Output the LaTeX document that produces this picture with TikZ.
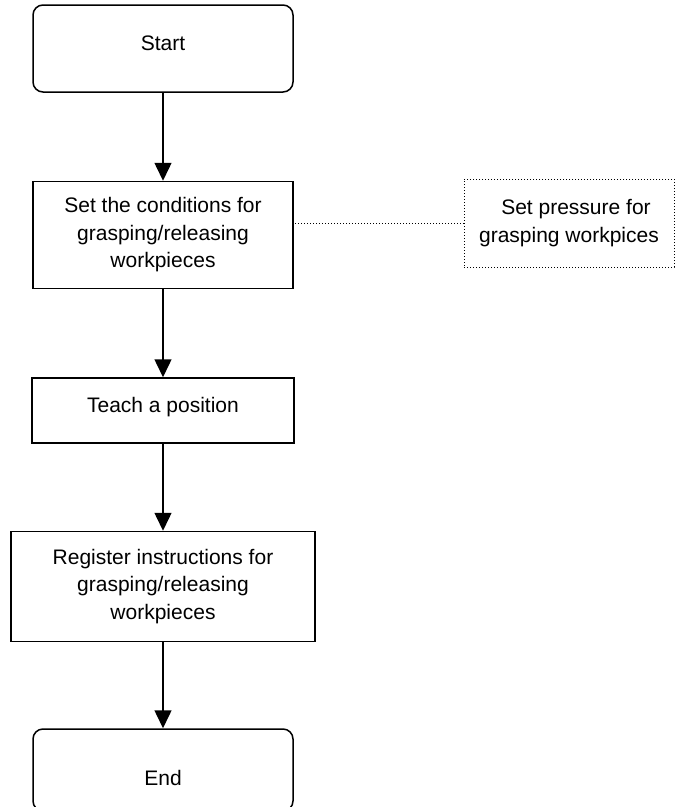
\documentclass[tikz,border=0pt]{standalone}
\usepackage{fontspec}
\setmainfont{Liberation Sans}
\usepackage{tikz}
\usetikzlibrary{arrows.meta, positioning}
\tikzset{
  termbox/.style={rectangle, rounded corners=10pt, draw=black, line width=1.5pt, minimum width=260pt, minimum height=87pt, inner sep=0pt, font=\fontsize{21}{27.5}\selectfont, align=center},
  stepbox/.style={rectangle, draw=black, line width=1.5pt, minimum width=260pt, inner sep=0pt, font=\fontsize{21}{27.5}\selectfont, align=center},
  notebox/.style={rectangle, draw=black, dotted, line width=1pt, minimum width=210pt, minimum height=88pt, inner sep=0pt, font=\fontsize{21}{27.5}\selectfont, align=center},
  arrow/.style={-{Triangle[width=17pt,length=18pt]}, line width=1.5pt},
  dotline/.style={dotted, line width=1pt}
}
\begin{document}
\begin{tikzpicture}
  \useasboundingbox (0,0) rectangle (675pt,-807pt);

  \node[termbox, text depth=10pt] (start) at (163pt,-48.5pt) {Start};
  \node[stepbox, minimum height=107pt, below=88pt of start] (cond) {Set the conditions for\\grasping/releasing\\workpieces};
  \node[stepbox, minimum width=262pt, minimum height=65pt, text depth=12pt, below=88pt of cond] (teach) {Teach a position};
  \node[stepbox, minimum width=304pt, minimum height=110pt, below=87pt of teach] (reg) {Register instructions for\\grasping/releasing\\workpieces};
  \node[termbox, minimum height=82pt, text height=30pt, text depth=0pt, below=86pt of reg] (end) {End};

  \node[notebox] (press) at (569pt,-223pt) {\hspace{14pt}Set pressure for\\grasping workpices};

  \draw[arrow] (start) -- (cond);
  \draw[arrow] (cond) -- (teach);
  \draw[arrow] (teach) -- (reg);
  \draw[arrow] (reg) -- (end);
  \draw[dotline] (press.west) -- (press.west -| cond.east);
\end{tikzpicture}
\end{document}
